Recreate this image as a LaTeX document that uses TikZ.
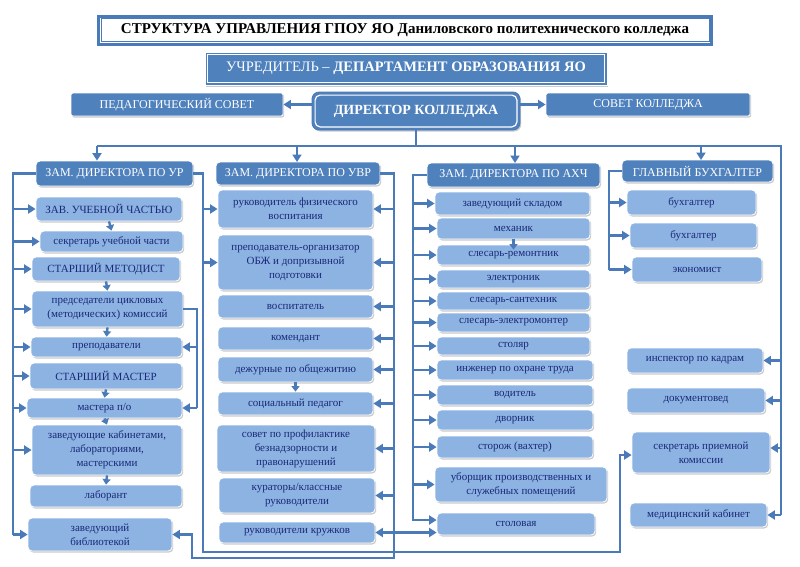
\documentclass[tikz,border=0pt]{standalone}
\usepackage{fontspec}
\setmainfont{Liberation Serif}
\usetikzlibrary{arrows.meta,shadows}
\definecolor{hb}{RGB}{79,129,189}
\definecolor{lb}{RGB}{141,179,226}
\definecolor{lc}{RGB}{74,122,183}
\definecolor{tc}{RGB}{25,40,120}
\newcommand\bx[7]{%
  \pgfmathsetmacro\bxw{#5-#3}\pgfmathsetmacro\bxh{#6-#4}%
  \pgfmathsetmacro\bxcx{(#3+#5)/2}\pgfmathsetmacro\bxcy{(#4+#6)/2}%
  \node[#2, minimum width=\bxw pt, minimum height=\bxh pt] (#1) at (\bxcx,\bxcy) {#7};}
\tikzset{
  shd/.style={drop shadow={shadow xshift=1.2pt, shadow yshift=-1.5pt, fill=black!45, opacity=0.45}},
  lbox/.style={fill=lb, draw=white, line width=0.8pt, rounded corners=4pt, text=tc, align=center,
    inner sep=1pt, font=\fontsize{11}{14}\selectfont, shd},
  hbox/.style={lbox, fill=hb, text=white, font=\fontsize{12}{13}\selectfont},
  topbox/.style={fill=hb, draw=white, line width=0.8pt, text=white, inner sep=0pt, shd,
    font=\fontsize{12}{13}\selectfont},
  conn/.style={draw=lc, line width=2.7pt},
  arr/.style={conn, -{Triangle[length=7.5pt,width=9pt]}},
  sarr/.style={draw=lc, line width=2.4pt, -{Triangle[length=5.5pt,width=8pt]}}
}
\begin{document}
\begin{tikzpicture}[x=1pt,y=-1pt]
\useasboundingbox[fill=white] (0,0) rectangle (800,566);
% ---------- top ----------
\node[draw=lc, line width=3pt, fill=white, minimum width=613pt, minimum height=28pt,
  font=\bfseries\fontsize{15}{16}\selectfont, inner sep=0pt, shd] (title) at (405,30)
  {СТРУКТУРА УПРАВЛЕНИЯ ГПОУ ЯО Даниловского политехнического колледжа};
\draw[lc, line width=0.8pt] ([shift={(4pt,4pt)}]title.south west) rectangle ([shift={(-4pt,-4pt)}]title.north east);
\bx{uch}{topbox, font=\fontsize{14.5}{16}\selectfont}{205}{52}{607}{85}{УЧРЕДИТЕЛЬ – \textbf{ДЕПАРТАМЕНТ ОБРАЗОВАНИЯ ЯО}}
\draw[white, line width=0.8pt] ([shift={(3pt,3pt)}]uch.south west) rectangle ([shift={(-3pt,-3pt)}]uch.north east);
\bx{dir}{topbox, draw=lc, rounded corners=7pt, font=\bfseries\fontsize{14}{16}\selectfont}{312}{92}{520}{130}{ДИРЕКТОР КОЛЛЕДЖА}
\draw[white, line width=1.2pt, rounded corners=5pt] ([shift={(3.5pt,3.5pt)}]dir.south west) rectangle ([shift={(-3.5pt,-3.5pt)}]dir.north east);
\bx{ped}{topbox, rounded corners=2pt}{71}{93}{283}{116}{ПЕДАГОГИЧЕСКИЙ СОВЕТ}
\bx{sov}{topbox, rounded corners=2pt}{546}{93}{750}{116}{СОВЕТ КОЛЛЕДЖА}
% ---------- column 1 ----------
\bx{ur}{hbox}{36}{161}{193}{186}{ЗАМ. ДИРЕКТОРА ПО УР}
\bx{zav}{lbox}{36}{197}{182}{221}{ЗАВ. УЧЕБНОЙ ЧАСТЬЮ}
\bx{sekr}{lbox}{40}{231}{183}{252}{секретарь учебной части}
\bx{metod}{lbox}{32}{257}{180}{281}{СТАРШИЙ МЕТОДИСТ}
\bx{pred}{lbox}{32}{291}{183}{327}{председатели цикловых\\(методических) комиссий}
\bx{prep}{lbox}{31}{337}{182}{357}{преподаватели}
\bx{stm}{lbox}{30}{363}{182}{389}{СТАРШИЙ МАСТЕР}
\bx{mast}{lbox}{27}{398}{182}{418}{мастера п/о}
\bx{zkab}{lbox}{32}{425}{182}{475}{заведующие кабинетами,\\лабораториями,\\мастерскими}
\bx{lab}{lbox}{30}{485}{182}{507}{лаборант}
\bx{lib}{lbox}{28}{518}{172}{551}{заведующий\\библиотекой}
% ---------- column 2 ----------
\bx{uvr}{hbox}{216}{162}{380}{185}{ЗАМ. ДИРЕКТОРА ПО УВР}
\bx{fiz}{lbox}{218}{190}{373}{228}{руководитель физического\\воспитания}
\bx{obzh}{lbox}{218}{235}{373}{290}{преподаватель-организатор\\ОБЖ и допризывной\\подготовки}
\bx{vosp}{lbox}{218}{295}{373}{318}{воспитатель}
\bx{kom}{lbox}{218}{327}{373}{350}{комендант}
\bx{dezh}{lbox}{218}{357}{373}{382}{дежурные по общежитию}
\bx{soc}{lbox}{218}{392}{373}{415}{социальный педагог}
\bx{sovp}{lbox}{217}{425}{375}{472}{совет по профилактике\\безнадзорности и\\правонарушений}
\bx{kur}{lbox}{219}{478}{375}{513}{кураторы/классные\\руководители}
\bx{kruzh}{lbox}{219}{522}{375}{543}{руководители кружков}
% ---------- column 3 ----------
\bx{ahch}{hbox}{427}{163}{600}{187}{ЗАМ. ДИРЕКТОРА ПО АХЧ}
\bx{skl}{lbox}{435}{192}{590}{215}{заведующий складом}
\bx{meh}{lbox}{437}{218}{590}{239}{механик}
\bx{rem}{lbox}{437}{245}{590}{265}{слесарь-ремонтник}
\bx{el}{lbox}{437}{270}{590}{288}{электроник}
\bx{sant}{lbox}{437}{292}{590}{310}{слесарь-сантехник}
\bx{elm}{lbox}{437}{313}{590}{332}{слесарь-электромонтер}
\bx{stol}{lbox}{437}{337}{590}{355}{столяр}
\bx{ing}{lbox}{437}{360}{593}{380}{инженер по охране труда}
\bx{vod}{lbox}{437}{385}{593}{405}{водитель}
\bx{dvor}{lbox}{437}{410}{593}{430}{дворник}
\bx{stor}{lbox}{437}{436}{593}{458}{сторож (вахтер)}
\bx{ub}{lbox}{435}{467}{607}{502}{уборщик производственных и\\служебных помещений}
\bx{stolov}{lbox}{437}{513}{595}{535}{столовая}
% ---------- column 4 ----------
\bx{gb}{hbox}{622}{160}{773}{182}{ГЛАВНЫЙ БУХГАЛТЕР}
\bx{b1}{lbox}{627}{190}{756}{215}{бухгалтер}
\bx{b2}{lbox}{630}{223}{757}{248}{бухгалтер}
\bx{ek}{lbox}{632}{257}{762}{282}{экономист}
\bx{insp}{lbox}{627}{348}{763}{373}{инспектор по кадрам}
\bx{dok}{lbox}{627}{388}{765}{413}{документовед}
\bx{sek}{lbox}{632}{432}{770}{473}{секретарь приемной\\комиссии}
\bx{med}{lbox}{630}{503}{767}{527}{медицинский кабинет}
% ---------- connectors: top ----------
\coordinate (b1L) at (97,146);
\coordinate (bR) at (781,146);
\draw[arr] (dir.west |- ped.east) -- (ped.east);
\draw[arr] (dir.east |- sov.west) -- (sov.west);
\draw[conn] (dir.south) -- (dir.south |- b1L);
\draw[conn] (b1L) -- (bR) -- (bR |- med.east);
\draw[arr] (b1L) -- (b1L |- ur.north);
\draw[arr] (297,146) -- (297,162);
\draw[arr] (515,146) -- (515,163);
\draw[arr] (701,146) -- (701,160);
\foreach \n in {insp,dok,med} \draw[arr] (\n.east -| bR) -- (\n.east);
\draw[arr] ([yshift=4.5pt]sek.east -| bR) -- ([yshift=4.5pt]sek.east);
% ---------- column 1 ----------
\coordinate (L1) at (13,0);
\draw[conn] (ur.west) -- (ur.west -| L1) -- (lib.west -| L1);
\foreach \n in {zav,sekr,metod,pred,prep,stm,mast,zkab,lib} \draw[arr] (\n.west -| L1) -- (\n.west);
\coordinate (R1) at (203,0);
\coordinate (B1) at (203,552);
\coordinate (B2) at (620,552);
\draw[arr] (ur.east) -- (ur.east -| R1) -- (B1) -- (B2) -- ([yshift=-2.5pt]sek.west -| B2) -- ([yshift=-2.5pt]sek.west);
\draw[arr] (fiz.west -| R1) -- (fiz.west);
\draw[arr] (obzh.west -| R1) -- (obzh.west);
\coordinate (P1) at (197,0);
\draw[conn] (pred.east) -- (pred.east -| P1) -- (mast.east -| P1);
\draw[arr] (prep.east -| P1) -- (prep.east);
\draw[arr] (mast.east -| P1) -- (mast.east);
\draw[sarr] (zav.south) -- (sekr.north);
\draw[sarr] (metod.south) -- (pred.north);
\draw[sarr] (pred.south) -- (prep.north);
\draw[sarr] (stm.south) -- (mast.north);
\draw[sarr] (mast.south) -- (zkab.north);
\draw[sarr] (zkab.south) -- (lab.north);
% ---------- column 2 ----------
\coordinate (D1) at (394,558);
\coordinate (D2) at (192,558);
\draw[arr] (uvr.east) -- (uvr.east -| D1) -- (D1) -- (D2) -- (D2 |- lib.east) -- (lib.east);
\foreach \n in {fiz,obzh,vosp,kom,dezh,soc,sovp,kur,kruzh} \draw[arr] (\n.east -| D1) -- (\n.east);
\draw[arr] (kruzh.east -| D1) -- (kruzh.east -| stolov.west);
\draw[sarr] (dezh.south) -- (soc.north);
% ---------- column 3 ----------
\coordinate (E) at (413,520);
\draw[arr] (ahch.west) -- (ahch.west -| E) -- (E) -- (E -| stolov.west);
\foreach \n in {skl,meh,rem,el,sant,elm,stol,ing,vod,dvor,stor,ub} \draw[arr] (\n.west -| E) -- (\n.west);
\draw[sarr] (meh.south) -- ([yshift=-5pt]rem.north);
% ---------- column 4 ----------
\coordinate (L4) at (609,0);
\draw[conn] (gb.west) -- (gb.west -| L4) -- (ek.west -| L4);
\foreach \n in {b1,b2,ek} \draw[arr] (\n.west -| L4) -- (\n.west);
\end{tikzpicture}
\end{document}
